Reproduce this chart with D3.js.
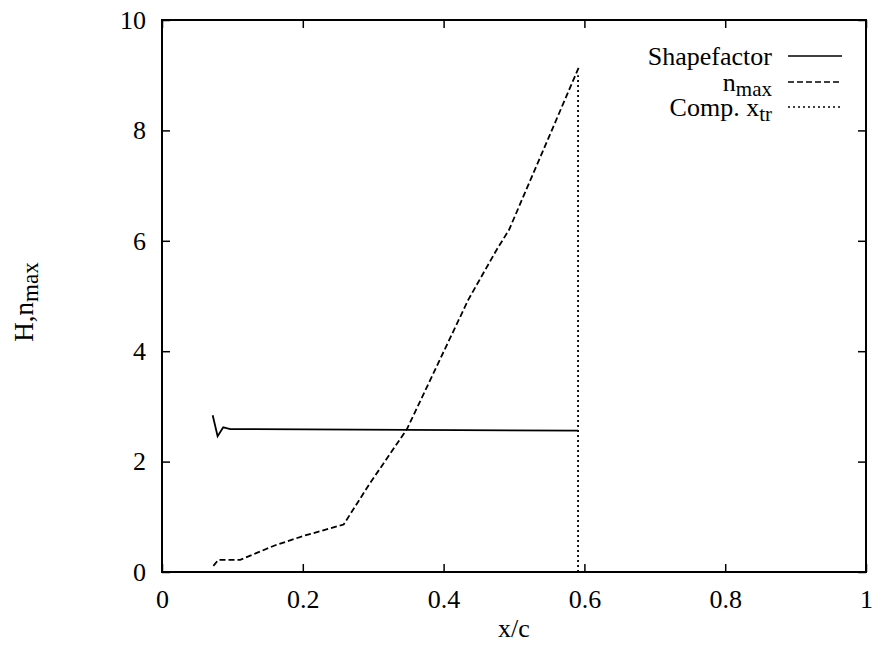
<!DOCTYPE html>
<html>
<head>
<meta charset="utf-8">
<script src="https://cdn.jsdelivr.net/npm/d3@7"></script>
<style>
  body { margin: 0; background: #fff; }
  svg text { font-family: "Liberation Serif", "Times New Roman", Times, serif; fill: #000; }
</style>
</head>
<body>
<div id="chart"></div>
<script>
// values
const shapeX = [0.072, 0.079, 0.087, 0.097, 0.591];
const shapeY = [2.84, 2.46, 2.62, 2.59, 2.56];

const nmaxX = [0.073, 0.080, 0.111, 0.160, 0.200, 0.258, 0.295, 0.348, 0.390, 0.435, 0.475, 0.493, 0.593];
const nmaxY = [0.11, 0.22, 0.22, 0.48, 0.65, 0.86, 1.60, 2.59, 3.72, 4.93, 5.83, 6.20, 9.17];

const xtrX = [0.591, 0.591];
const xtrY = [0, 9.0];

const xTicks = [0, 0.2, 0.4, 0.6, 0.8, 1];
const yTicks = [0, 2, 4, 6, 8, 10];

const width = 874, height = 646;
const margin = { top: 20, right: 8, bottom: 74, left: 162 };
const w = width - margin.left - margin.right;
const h = height - margin.top - margin.bottom;
const serif = '"Liberation Serif", "Times New Roman", Times, serif';

const svg = d3.select("#chart").append("svg")
  .attr("width", width)
  .attr("height", height)
  .style("font-family", serif);

const g = svg.append("g")
  .attr("transform", `translate(${margin.left},${margin.top})`);

const x = d3.scaleLinear().domain([0, 1]).range([0, w]);
const y = d3.scaleLinear().domain([0, 10]).range([h, 0]);

const fmt = d => d === 0 || d === 1 ? String(d) : d3.format(".1f")(d);

// axes, gnuplot style: inward ticks, mirrored
g.append("g")
  .attr("transform", `translate(0,${h})`)
  .call(d3.axisBottom(x).tickValues(xTicks).tickFormat(fmt).tickSizeInner(-8).tickSizeOuter(0).tickPadding(18));
g.append("g")
  .call(d3.axisTop(x).tickValues(xTicks).tickFormat("").tickSizeInner(-8).tickSizeOuter(0));
g.append("g")
  .call(d3.axisLeft(y).tickValues(yTicks).tickFormat(d => String(d)).tickSizeInner(-8).tickSizeOuter(0).tickPadding(16));
g.append("g")
  .attr("transform", `translate(${w},0)`)
  .call(d3.axisRight(y).tickValues(yTicks).tickFormat("").tickSizeInner(-8).tickSizeOuter(0));

g.selectAll(".tick line").attr("stroke", "#000").attr("stroke-width", 1.5);
g.selectAll(".domain").remove();
g.selectAll("g").attr("font-family", serif).attr("font-size", 26);

g.append("rect")
  .attr("width", w).attr("height", h)
  .attr("fill", "none").attr("stroke", "#000").attr("stroke-width", 2);

const line = d3.line().x(d => x(d[0])).y(d => y(d[1]));

const series = [
  { xs: shapeX, ys: shapeY, dash: null },
  { xs: nmaxX, ys: nmaxY, dash: "6,3" },
  { xs: xtrX, ys: xtrY, dash: "2,3" }
];

series.forEach(s => {
  g.append("path")
    .datum(s.xs.map((v, i) => [v, s.ys[i]]))
    .attr("d", line)
    .attr("fill", "none")
    .attr("stroke", "#000")
    .attr("stroke-width", 1.8)
    .attr("stroke-dasharray", s.dash);
});

// axis titles
svg.append("text")
  .attr("x", margin.left + w / 2)
  .attr("y", 637)
  .attr("text-anchor", "middle")
  .attr("font-size", 26)
  .text("x/c");

const yl = svg.append("text")
  .attr("transform", "translate(33,302) rotate(-90)")
  .attr("text-anchor", "middle")
  .attr("font-size", 27);
yl.append("tspan").text("H,n");
yl.append("tspan").attr("font-size", 23).attr("dy", 5).text("max");

// legend
const legend = [
  { main: "Shapefactor", sub: null, dash: null },
  { main: "n", sub: "max", dash: "6,3" },
  { main: "Comp. x", sub: "tr", dash: "2,3" }
];
const legY = [56, 82, 107];

legend.forEach((d, i) => {
  const t = svg.append("text")
    .attr("x", 772)
    .attr("y", legY[i] + 9)
    .attr("text-anchor", "end")
    .attr("font-size", 26);
  t.append("tspan").text(d.main);
  if (d.sub) t.append("tspan").attr("font-size", 21).attr("dy", 5).text(d.sub);
  svg.append("line")
    .attr("x1", 788).attr("x2", 842)
    .attr("y1", legY[i]).attr("y2", legY[i])
    .attr("stroke", "#000")
    .attr("stroke-width", 1.5)
    .attr("stroke-dasharray", d.dash);
});
</script>
</body>
</html>
